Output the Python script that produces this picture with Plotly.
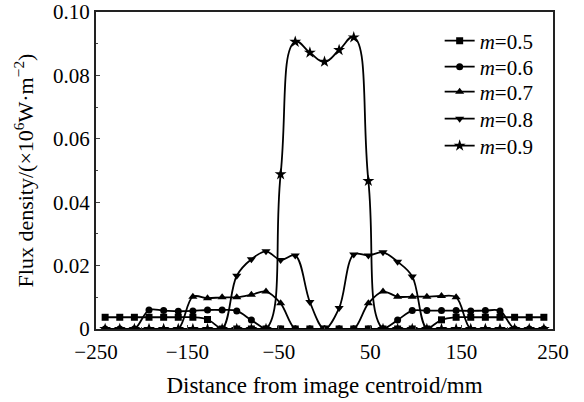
import plotly.graph_objects as go

# Distance from image centroid (mm) at which data points were sampled
x_mm = [-240, -224, -208, -192, -176, -160, -144, -128, -112, -96, -80, -64, -48, -32, -16,
        0, 16, 32, 48, 64, 80, 96, 112, 128, 144, 160, 176, 192, 208, 224, 240]

# Flux density (x10^6 W/m^2) for each m
m05 = [0.0037, 0.0037, 0.0037, 0.0037, 0.0037, 0.0037, 0.0037, 0.0030, 0, 0, 0, 0, 0, 0, 0,
       0, 0, 0, 0, 0, 0, 0, 0, 0.0029, 0.0037, 0.0037, 0.0037, 0.0037, 0.0037, 0.0037, 0.0037]
m06 = [0, 0, 0, 0.0060, 0.0058, 0.0056, 0.0057, 0.0060, 0.0060, 0.0057, 0.0028, 0, 0, 0, 0,
       0, 0, 0, 0, 0, 0.0028, 0.0058, 0.0058, 0.0058, 0.0058, 0.0057, 0.0058, 0.0057, 0, 0, 0]
m07 = [0, 0, 0, 0, 0, 0, 0.0102, 0.0097, 0.0100, 0.0100, 0.0108, 0.0118, 0.0081, 0, 0,
       0, 0, 0, 0.0081, 0.0118, 0.0102, 0.0102, 0.0102, 0.0104, 0.0100, 0, 0, 0, 0, 0, 0]
m08 = [0, 0, 0, 0, 0, 0, 0, 0, 0, 0.0168, 0.0220, 0.0245, 0.0218, 0.0232, 0.0085,
       0, 0.0066, 0.0235, 0.0232, 0.0242, 0.0212, 0.0166, 0, 0, 0, 0, 0, 0, 0, 0, 0]
m09 = [0, 0, 0, 0, 0, 0, 0, 0, 0, 0, 0, 0, 0.0488, 0.0906, 0.0872,
       0.0843, 0.0880, 0.0920, 0.0467, 0, 0, 0, 0, 0, 0, 0, 0, 0, 0, 0, 0]

series_names = ["<i>m</i>=0.5", "<i>m</i>=0.6", "<i>m</i>=0.7", "<i>m</i>=0.8", "<i>m</i>=0.9"]
series_values = [m05, m06, m07, m08, m09]
symbols = ["square", "circle", "triangle-up", "triangle-down", "star"]
sizes = [7, 7, 8, 8, 9]
smoothings = [1.0, 1.0, 1.0, 1.0, 1.3]

x_tickvals = [-250, -150, -50, 50, 150, 250]
y_tickvals = [0, 0.02, 0.04, 0.06, 0.08, 0.10]
y_ticktext = ["0", "0.02", "0.04", "0.06", "0.08", "0.10"]

FONT = "Liberation Serif, Times New Roman, serif"

# legend rows (paper coordinates), one legend per series for exact row spacing
legend_rows = [0.9085, 0.8265, 0.7476, 0.6625, 0.5773]

fig = go.Figure()
for i, (name, vals, sym, sz, sm) in enumerate(zip(series_names, series_values, symbols, sizes, smoothings)):
    lg = "legend" if i == 0 else f"legend{i + 1}"
    fig.add_trace(go.Scatter(
        x=x_mm, y=vals, name=name, mode="lines+markers",
        line=dict(color="black", width=1.8, shape="spline", smoothing=sm),
        marker=dict(symbol=sym, size=sz, color="black"),
        cliponaxis=True, legend=lg,
    ))

legend_common = dict(x=0.752, xanchor="left", yanchor="middle",
                     bgcolor="rgba(0,0,0,0)", font=dict(family=FONT, size=21),
                     itemwidth=30, borderwidth=0)
legends = {}
for i, yv in enumerate(legend_rows):
    key = "legend" if i == 0 else f"legend{i + 1}"
    legends[key] = dict(legend_common, y=yv)

fig.update_layout(
    width=584, height=402,
    margin=dict(l=96, r=31, t=12, b=73, autoexpand=False),
    paper_bgcolor="white", plot_bgcolor="white",
    font=dict(family=FONT, size=21, color="black"),
    showlegend=True,
    xaxis=dict(
        range=[-250, 250], tickvals=x_tickvals, ticks="inside", ticklen=4,
        showline=True, mirror=True, linecolor="#222", linewidth=2,
        showgrid=False, zeroline=False, automargin=False,
        minor=dict(tickvals=[-200, -100, 0, 100, 200], ticks="inside", ticklen=2),
        title=dict(text="Distance from image centroid/mm", font=dict(size=23), standoff=14),
        tickfont=dict(size=21), ticklabelstandoff=3,
    ),
    yaxis=dict(
        range=[0, 0.10], tickvals=y_tickvals, ticktext=y_ticktext, ticks="inside", ticklen=4,
        showline=True, mirror=True, linecolor="#222", linewidth=2,
        showgrid=False, zeroline=False, automargin=False,
        minor=dict(tickvals=[0.01, 0.03, 0.05, 0.07, 0.09], ticks="inside", ticklen=2),
        title=dict(text="Flux density/(×10<sup>6</sup>W·m<sup>−2</sup>)", font=dict(size=22), standoff=13),
        tickfont=dict(size=21),
    ),
    **legends,
)

fig.write_html("out.html")
